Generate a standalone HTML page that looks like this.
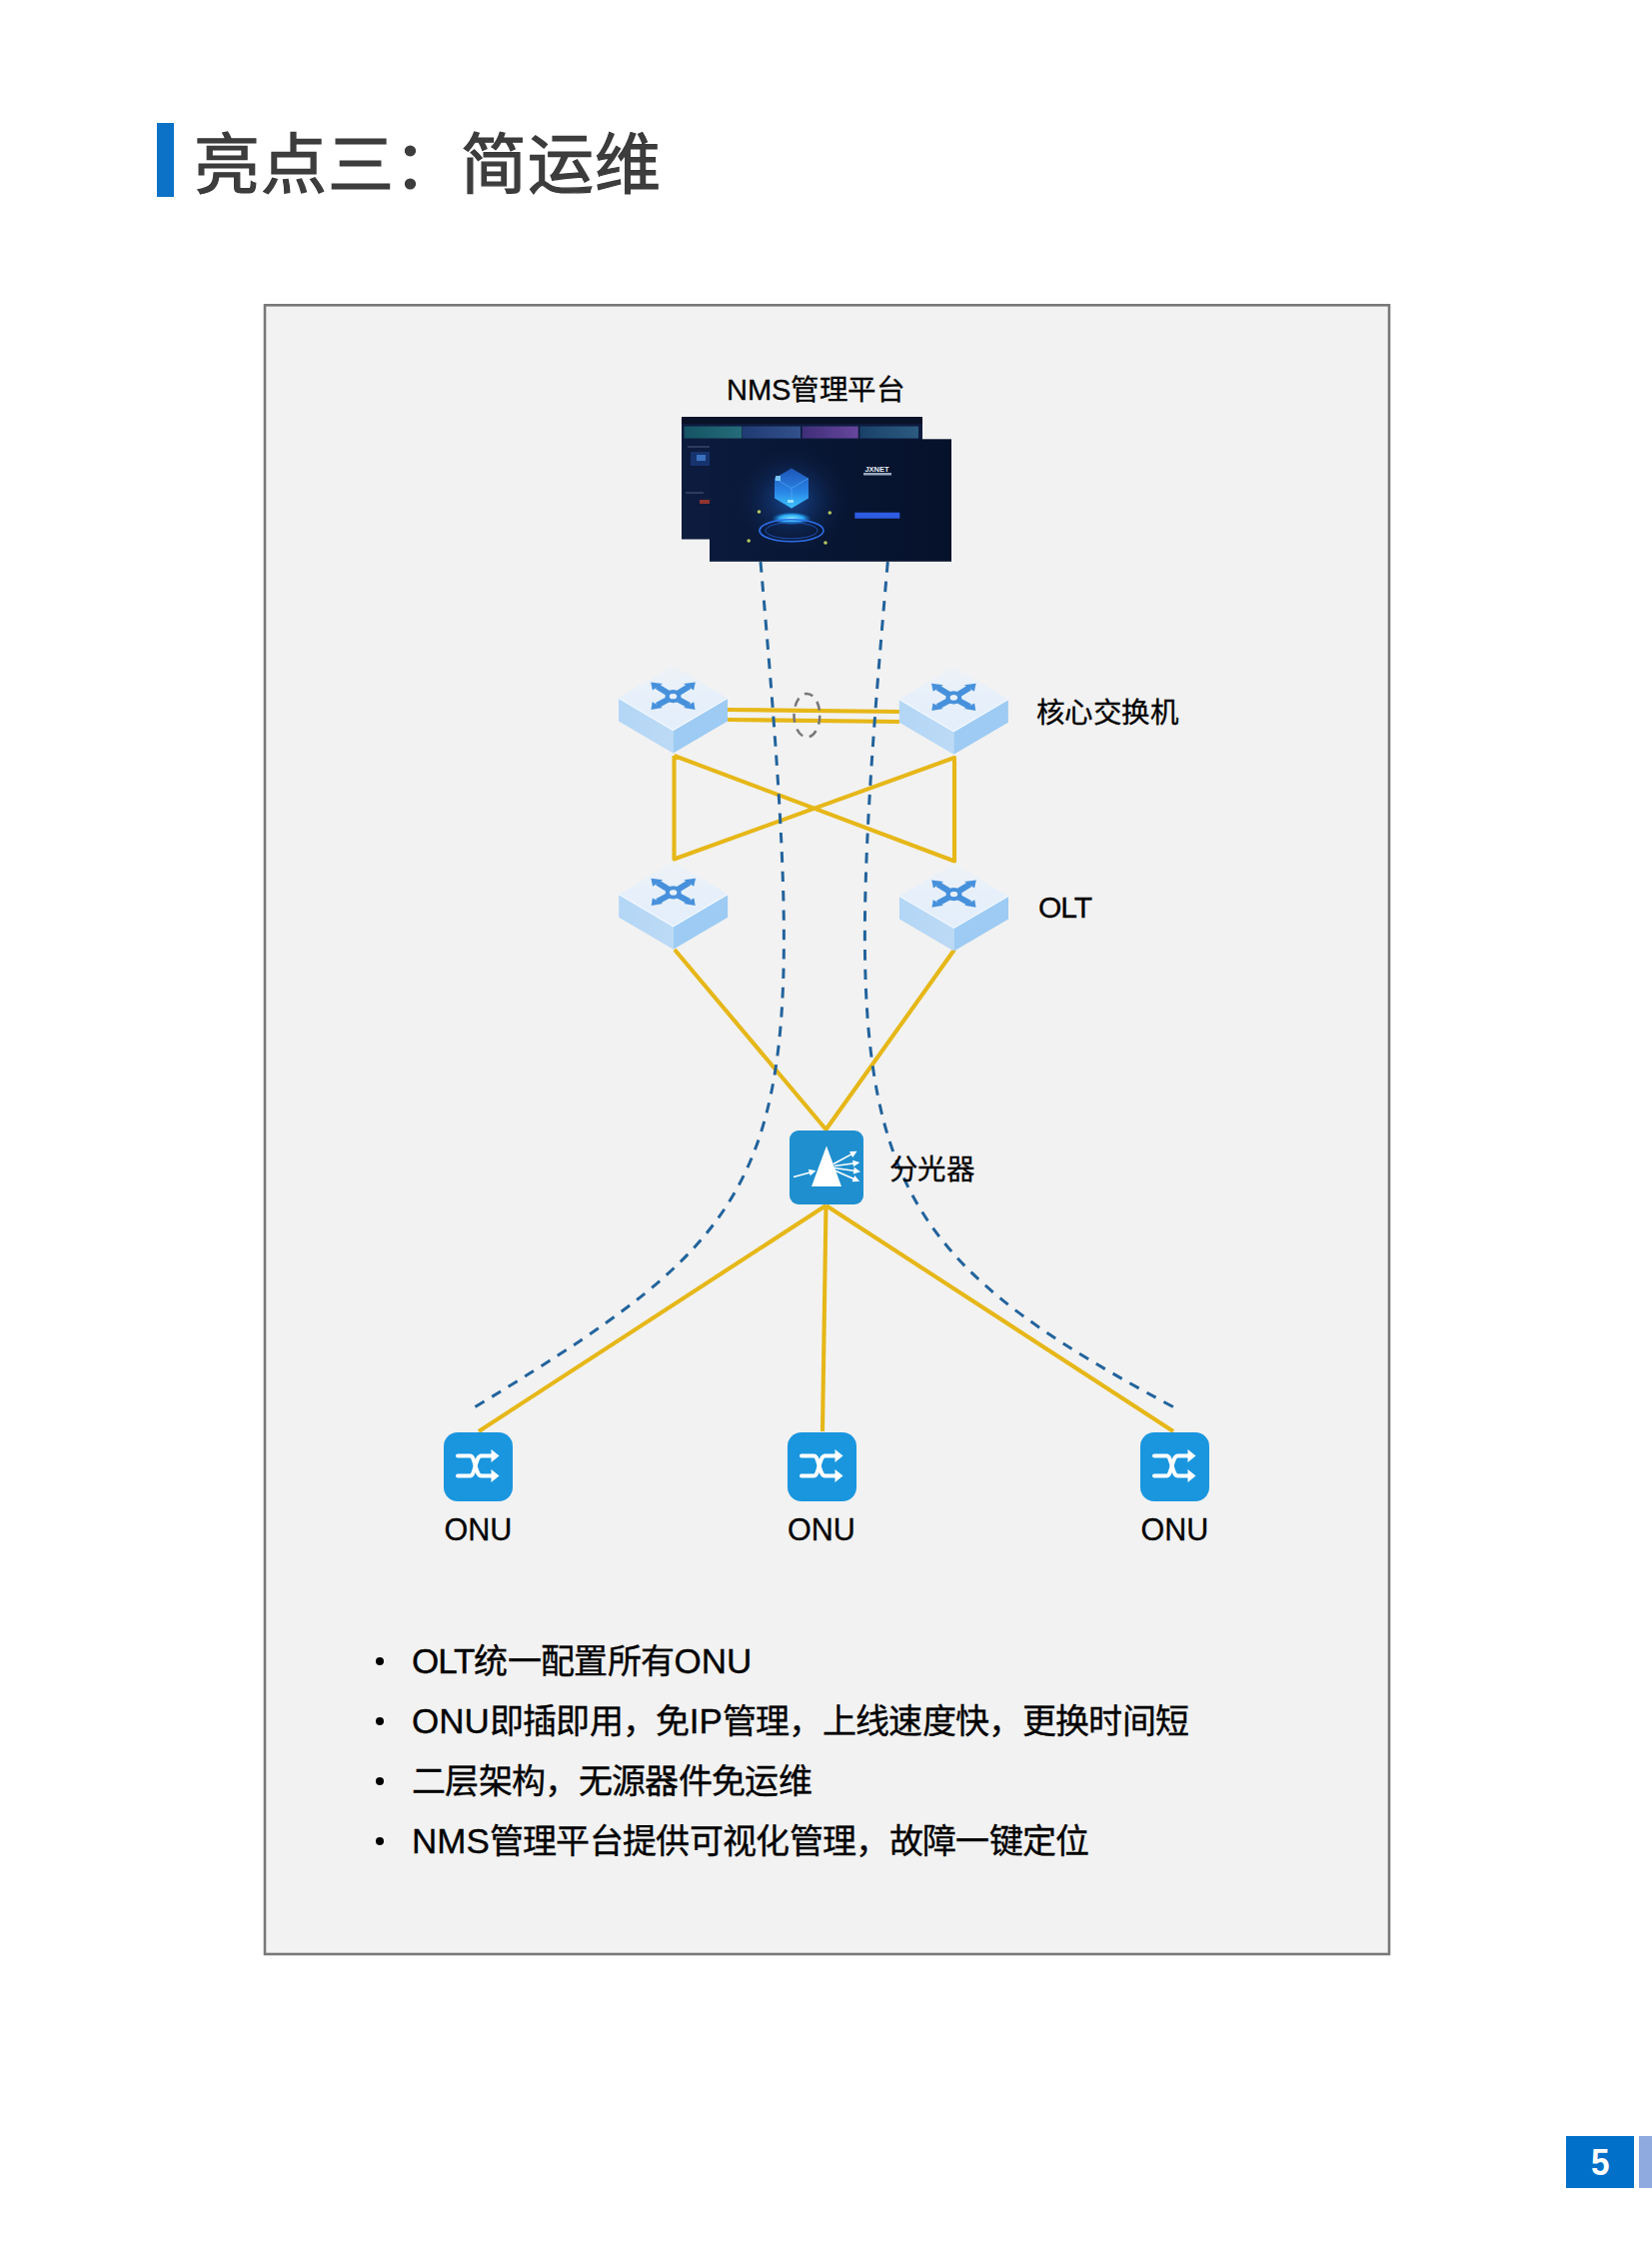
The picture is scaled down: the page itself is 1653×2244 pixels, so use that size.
<!DOCTYPE html>
<html lang="zh-CN"><head><meta charset="utf-8">
<style>
html,body{margin:0;padding:0;}
body{width:1653px;height:2244px;position:relative;overflow:hidden;background:#fff;font-family:"Liberation Sans",sans-serif;}
.abs{position:absolute;}
#bar{left:157px;top:123px;width:17px;height:74px;background:#0c72c7;}
#title{left:194px;top:119.5px;font-size:66px;letter-spacing:0.8px;font-weight:normal;-webkit-text-stroke:1.2px #3b3838;color:#3d3d3d;white-space:nowrap;line-height:90px;}
#frame{left:263px;top:304px;width:1122px;height:1646px;border:3px solid #7a7a7a;background:#f2f2f2;}
svg{position:absolute;left:0;top:0;}
.lbl{position:absolute;white-space:nowrap;color:#000;font-size:28.5px;letter-spacing:-0.6px;line-height:34px;-webkit-text-stroke:0.3px #000;}
.lbl .L{font-size:29px;letter-spacing:0;}
.lbl .L2{font-size:30.5px;letter-spacing:0;}
.bul{position:absolute;left:412px;font-size:34px;letter-spacing:-0.68px;color:#000;white-space:nowrap;line-height:40px;-webkit-text-stroke:0.35px #000;}
.bul .L{font-size:35px;letter-spacing:0;}
.bul span.d{position:absolute;left:-36.5px;top:16px;width:8px;height:8px;border-radius:50%;background:#000;}
#pn{left:1567px;top:2137px;width:68px;height:52px;background:#0070c8;color:#fff;font-weight:bold;font-size:37px;text-align:center;line-height:54px;}
#pn2{left:1640px;top:2137px;width:13px;height:52px;background:#8eaadf;}
</style></head>
<body>
<div id="bar" class="abs"></div>
<div id="title" class="abs">亮点三：简运维</div>

<svg width="1653" height="2244" viewBox="0 0 1653 2244">
<defs>
  <linearGradient id="topf" x1="0" y1="0" x2="0" y2="1"><stop offset="0" stop-color="#eef2f6"/><stop offset="0.45" stop-color="#e7f0fa"/><stop offset="1" stop-color="#e3eefb"/></linearGradient>
  <linearGradient id="lside" x1="0" y1="0" x2="1" y2="0"><stop offset="0" stop-color="#b3d6f6"/><stop offset="1" stop-color="#bcdaf5"/></linearGradient>
  <g id="sw">
    <polygon points="-54.5,0 0,32 0,55 -54.5,23" fill="url(#lside)"/>
    <polygon points="54.5,0 0,32 0,55 54.5,23" fill="#9dcbf3"/>
    <polygon points="-54.5,0 0,-33 54.5,0 0,32" fill="url(#topf)"/>
    <polyline points="-54.5,0 0,32 54.5,0" fill="none" stroke="#f2f8ff" stroke-width="1.2"/>
    <g transform="translate(0,-1.8)" fill="#4791dc">
      <g stroke="#4791dc" stroke-width="6" stroke-linecap="butt">
        <line x1="-3" y1="-2" x2="-16" y2="-10"/>
        <line x1="3" y1="-2" x2="16" y2="-10"/>
        <line x1="-3" y1="2" x2="-16" y2="9"/>
        <line x1="3" y1="2" x2="16" y2="9"/>
      </g>
      <ellipse cx="0" cy="0" rx="6" ry="4.6" fill="none" stroke="#4791dc" stroke-width="4"/>
      <ellipse cx="0" cy="0" rx="3.3" ry="2.4" fill="#e8f1fb"/>
      <polygon points="-22.3,-14.2 -10.5,-12.6 -20.6,-6.2"/>
      <polygon points="22.3,-14.2 10.5,-12.6 20.6,-6.2"/>
      <polygon points="-22,13.2 -10.5,11.2 -20.8,5.6"/>
      <polygon points="22,13.2 10.5,11.2 20.8,5.6"/>
    </g>
  </g>
  <g id="onu">
    <rect x="-34.5" y="0" width="69" height="69" rx="14" fill="#1a96df"/>
    <g fill="none" stroke="#fff" stroke-width="4" stroke-linecap="round">
      <path d="M-20.5,23.5 H-8 C-3,23.5 -3,43.5 3,43.5 H14"/>
      <path d="M-20.5,43.5 H-8 C-3,43.5 -3,23.5 3,23.5 H14"/>
    </g>
    <polygon points="13,17 21,23.5 13,30" fill="#fff"/>
    <polygon points="13,37 21,43.5 13,50" fill="#fff"/>
  </g>
</defs>

<rect x="265" y="305.3" width="1125" height="1649.7" fill="#f2f2f2" stroke="#787878" stroke-width="2.6"/>
<!-- NMS screenshots -->
<defs>
  <linearGradient id="c1" x1="0" x2="1"><stop offset="0" stop-color="#17606c"/><stop offset="1" stop-color="#2a7d86"/></linearGradient>
  <linearGradient id="c2" x1="0" x2="1"><stop offset="0" stop-color="#25427f"/><stop offset="1" stop-color="#3a5c9c"/></linearGradient>
  <linearGradient id="c3" x1="0" x2="1"><stop offset="0" stop-color="#4a3386"/><stop offset="1" stop-color="#7a50b0"/></linearGradient>
  <linearGradient id="c4" x1="0" x2="1"><stop offset="0" stop-color="#1d4a72"/><stop offset="1" stop-color="#33688e"/></linearGradient>
  <radialGradient id="glow" cx="0.5" cy="0.5" r="0.5"><stop offset="0" stop-color="#1f5fc0" stop-opacity="0.7"/><stop offset="1" stop-color="#0a1838" stop-opacity="0"/></radialGradient>
  <radialGradient id="dome" cx="0.5" cy="0.5" r="0.5"><stop offset="0" stop-color="#7fe6ff"/><stop offset="0.6" stop-color="#2aa8f0"/><stop offset="1" stop-color="#1060c0" stop-opacity="0"/></radialGradient>
  <linearGradient id="fp" x1="0" x2="1"><stop offset="0" stop-color="#0a1a3c"/><stop offset="0.5" stop-color="#081633"/><stop offset="1" stop-color="#06112a"/></linearGradient>
</defs>
<rect x="682" y="417" width="241" height="122.5" fill="#0d1b3e"/>
<rect x="682" y="417" width="241" height="7" fill="#0a1229"/>
<rect x="684.5" y="426.5" width="57.8" height="12" fill="url(#c1)" opacity="0.82"/>
<rect x="743" y="426.5" width="58" height="12" fill="url(#c2)" opacity="0.82"/>
<rect x="802.7" y="426.5" width="56" height="12" fill="url(#c3)" opacity="0.82"/>
<rect x="860.5" y="426.5" width="58.5" height="12" fill="url(#c4)" opacity="0.82"/>
<rect x="688" y="446" width="22" height="2" fill="#3a4a70" opacity="0.7"/><rect x="691" y="452" width="19" height="14" fill="#1a3a7a" opacity="0.8"/><rect x="697" y="455" width="9" height="6" fill="#4a8ae0" opacity="0.7"/><rect x="686" y="492" width="18" height="2" fill="#3a4a70" opacity="0.7"/>
<rect x="700" y="500" width="10" height="4" fill="#b03a2a" opacity="0.8"/>
<rect x="710" y="439.3" width="242" height="122.5" fill="url(#fp)"/>
<ellipse cx="792" cy="500" rx="60" ry="55" fill="url(#glow)"/>
<linearGradient id="cube" x1="0" y1="0" x2="0" y2="1"><stop offset="0" stop-color="#1d55b8"/><stop offset="0.6" stop-color="#2a86e6"/><stop offset="1" stop-color="#3cc6ff"/></linearGradient>
<polygon points="792,468.5 809,478.5 809,498.5 792,508.5 775,498.5 775,478.5" fill="url(#cube)"/>
<polyline points="775,478.5 792,488.5 809,478.5 M792,488.5" fill="none" stroke="#5fb0ff" stroke-width="0.8" opacity="0.7"/>
<line x1="792" y1="488.5" x2="792" y2="508.5" stroke="#5fb0ff" stroke-width="0.8" opacity="0.7"/>
<rect x="776" y="476" width="5" height="5" fill="#8fdcff" opacity="0.8"/>
<rect x="788" y="500" width="6" height="3" fill="#b0f0ff" opacity="0.8"/>
<ellipse cx="792" cy="518.7" rx="20" ry="6.5" fill="url(#dome)"/>
<ellipse cx="792" cy="530.8" rx="32" ry="11" fill="none" stroke="#2f6fe8" stroke-width="1.6"/>
<ellipse cx="792" cy="530.8" rx="26" ry="8" fill="none" stroke="#1f4fb0" stroke-width="1"/>
<text x="877.5" y="471.5" font-size="7.5" font-weight="bold" fill="#e8eef8" text-anchor="middle" font-family="Liberation Sans">JXNET</text>
<rect x="864" y="473" width="28" height="2.5" fill="#c0cce0" opacity="0.8"/>
<rect x="855.3" y="512.7" width="45" height="6" fill="#2e5ce2"/>
<circle cx="759.5" cy="512" r="1.8" fill="#b8c860"/>
<circle cx="830.3" cy="513" r="1.8" fill="#b8c860"/>
<circle cx="749.2" cy="541" r="1.8" fill="#b8c860"/>
<circle cx="826" cy="543" r="1.8" fill="#b8c860"/>

<!-- yellow links -->
<g stroke="#e6b718" stroke-width="4.1" fill="none" stroke-linejoin="round">
  <line x1="728" y1="710" x2="900" y2="712"/>
  <line x1="728" y1="720" x2="900" y2="722"/>
  <polyline points="674.5,756 674.5,859.5 955,758 955,861.5 674.5,756"/>
  <polyline points="675,950 826.5,1130 955,950"/>
  <line x1="826.5" y1="1206" x2="479" y2="1432"/>
  <line x1="826.5" y1="1206" x2="823" y2="1432"/>
  <line x1="826.5" y1="1206" x2="1174" y2="1432"/>
</g>
<!-- dashed curves -->
<path d="M761,562 C814.2,1169.4 798.8,1211.5 475.4,1407.6" fill="none" stroke="#22639c" stroke-width="3" stroke-dasharray="10.5 8.89"/>
<path d="M888.3,562 C836.3,1154.6 850.1,1234 1174,1407.6" fill="none" stroke="#22639c" stroke-width="3" stroke-dasharray="10.5 8.94"/>

<ellipse cx="807.4" cy="715.7" rx="12.9" ry="21.8" fill="none" stroke="#777" stroke-width="2.5" stroke-dasharray="9 7"/>

<!-- switches -->
<use href="#sw" x="673.5" y="698.5"/>
<use href="#sw" x="954.3" y="699.7"/>
<use href="#sw" x="673.7" y="894.7"/>
<use href="#sw" x="954.5" y="896.4"/>

<!-- splitter -->
<rect x="790" y="1131" width="74" height="74" rx="9" fill="#1f8fcf"/>
<polygon points="827,1146.6 812,1187 842,1187" fill="#fff"/>
<g stroke="#fff" stroke-width="1.6" fill="#fff">
  <line x1="794.0" y1="1177.5" x2="811.5" y2="1172.7"/><polygon points="814.6,1171.8 811.1,1174.9 810.0,1170.9"/>
  <line x1="834.0" y1="1164.5" x2="853.2" y2="1154.1"/><polygon points="856.0,1152.6 853.3,1156.4 851.3,1152.8"/>
  <line x1="835.0" y1="1166.5" x2="855.3" y2="1163.7"/><polygon points="858.5,1163.3 854.6,1165.9 854.1,1161.8"/>
  <line x1="835.0" y1="1168.5" x2="856.0" y2="1171.5"/><polygon points="859.2,1171.9 854.7,1173.4 855.3,1169.2"/>
  <line x1="834.0" y1="1170.5" x2="855.6" y2="1179.9"/><polygon points="858.5,1181.2 853.8,1181.4 855.5,1177.6"/>
</g>

<!-- ONUs -->
<use href="#onu" x="478.5" y="1433"/>
<use href="#onu" x="822.5" y="1433"/>
<use href="#onu" x="1175.5" y="1433"/>
</svg>

<div class="lbl" style="left:727px;top:372.5px;"><span class="L">NMS</span>管理平台</div>
<div class="lbl" style="left:1037px;top:696px;">核心交换机</div>
<div class="lbl" style="left:1039px;top:890.5px;"><span class="L" style="letter-spacing:-1px;font-size:30px">OLT</span></div>
<div class="lbl" style="left:890px;top:1153px;">分光器</div>
<div class="lbl" style="left:444.5px;top:1513px;"><span class="L2">ONU</span></div>
<div class="lbl" style="left:788px;top:1513px;"><span class="L2">ONU</span></div>
<div class="lbl" style="left:1141.5px;top:1513px;"><span class="L2">ONU</span></div>

<div class="bul" style="top:1642px;"><span class="d"></span><span class="L" style="letter-spacing:-1px">OLT</span>统一配置所有<span class="L">ONU</span></div>
<div class="bul" style="top:1702px;"><span class="d"></span><span class="L">ONU</span>即插即用，免<span class="L">IP</span>管理，上线速度快，更换时间短</div>
<div class="bul" style="top:1762px;"><span class="d"></span>二层架构，无源器件免运维</div>
<div class="bul" style="top:1822px;"><span class="d"></span><span class="L">NMS</span>管理平台提供可视化管理，故障一键定位</div>

<div id="pn" class="abs"><span style="display:inline-block;transform:scaleX(.9)">5</span></div>
<div id="pn2" class="abs"></div>
</body></html>
